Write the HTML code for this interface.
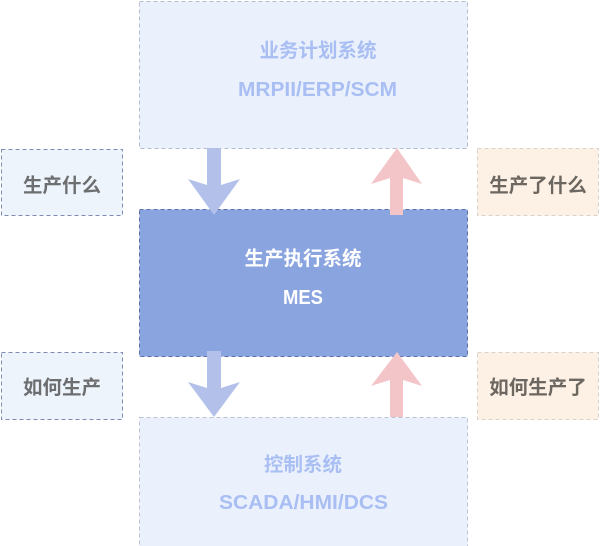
<!DOCTYPE html>
<html>
<head>
<meta charset="utf-8">
<style>
  html,body{margin:0;padding:0;background:#fff;}
  svg{display:block;}
  text{font-family:"Liberation Sans","Noto Sans CJK SC",sans-serif;font-weight:bold;}
</style>
</head>
<body>
<svg width="600" height="546" viewBox="0 0 600 546" xmlns="http://www.w3.org/2000/svg">
  <!-- top box -->
  <rect x="139.5" y="1.5" width="328" height="147" fill="#eaf1fd" stroke="#b4bccf" stroke-width="1" stroke-dasharray="4 3"/>
  <text x="318" y="57" font-size="19.5" fill="#a9bef3" text-anchor="middle">业务计划系统</text>
  <text x="238" y="96" font-size="20.5" fill="#a9bef3" textLength="159" lengthAdjust="spacingAndGlyphs">MRPII/ERP/SCM</text>

  <!-- MES box -->
  <rect x="139.5" y="209.5" width="328" height="147" fill="#8aa4e0" stroke="#5c70a8" stroke-width="1" stroke-dasharray="4 3"/>
  <text x="303" y="265" font-size="19.5" fill="#ffffff" text-anchor="middle">生产执行系统</text>
  <text x="283" y="304" font-size="20" fill="#ffffff" textLength="40" lengthAdjust="spacingAndGlyphs">MES</text>

  <!-- bottom box -->
  <rect x="139.5" y="417.5" width="328" height="131" fill="#eaf1fd" stroke="#bcc3d4" stroke-width="1" stroke-dasharray="4 3"/>
  <text x="303" y="471" font-size="19.5" fill="#a9bef3" text-anchor="middle">控制系统</text>
  <text x="219" y="509" font-size="20.5" fill="#a9bef3" textLength="169" lengthAdjust="spacingAndGlyphs">SCADA/HMI/DCS</text>

  <!-- left labels -->
  <rect x="1.5" y="149.5" width="121" height="66" fill="#eef4fc" stroke="#7e8bb2" stroke-width="1" stroke-dasharray="4 3"/>
  <text x="62" y="192" font-size="19.5" fill="#6d6e70" text-anchor="middle">生产什么</text>
  <rect x="1.5" y="352.5" width="121" height="67" fill="#eef4fc" stroke="#7e8bb2" stroke-width="1" stroke-dasharray="4 3"/>
  <text x="62" y="394" font-size="19.5" fill="#6d6e70" text-anchor="middle">如何生产</text>

  <!-- right labels -->
  <rect x="477.5" y="148.5" width="121" height="67" fill="#fcf1e4" stroke="#d9d2ca" stroke-width="1" stroke-dasharray="4 3"/>
  <text x="538" y="192" font-size="19.5" fill="#6c6761" text-anchor="middle">生产了什么</text>
  <rect x="477.5" y="352.5" width="121" height="67" fill="#fcf1e4" stroke="#d9d2ca" stroke-width="1" stroke-dasharray="4 3"/>
  <text x="538" y="394" font-size="19.5" fill="#6c6761" text-anchor="middle">如何生产了</text>

  <!-- down arrows -->
  <polygon points="207,148 221,148 221,185 240,179 214,215 188,179 207,185" fill="#b3c1ea"/>
  <polygon points="207,351 221,351 221,388 240,382 214,417 188,382 207,388" fill="#b3c1ea"/>

  <!-- up arrows -->
  <polygon points="390,215 403,215 403,178 422,184 397,148 371,184 390,178" fill="#f3c5c8"/>
  <polygon points="390,417 403,417 403,380 422,386 397,352 371,386 390,380" fill="#f3c5c8"/>
</svg>
</body>
</html>
